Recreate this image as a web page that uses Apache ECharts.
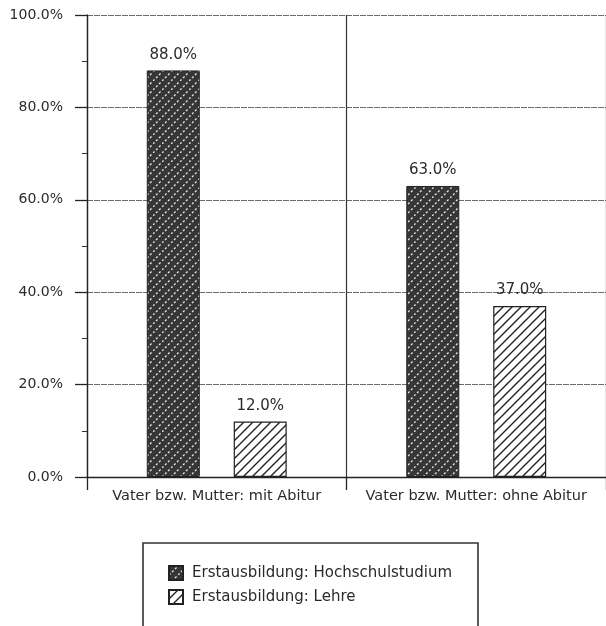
<!DOCTYPE html>
<html>
<head>
<meta charset="utf-8">
<script src="https://cdn.jsdelivr.net/npm/echarts@6/dist/echarts.min.js"></script>
<style>
html,body{margin:0;padding:0;background:#fff;}
#chart{width:606px;height:626px;}
</style>
</head>
<body>
<div id="chart"></div>
<script>
var categories = ['Vater bzw. Mutter: mit Abitur', 'Vater bzw. Mutter: ohne Abitur'];
var seriesNames = ['Erstausbildung: Hochschulstudium', 'Erstausbildung: Lehre'];
var hochschulValues = [88.0, 63.0];
var lehreValues = [12.0, 37.0];
var yTicks = [0, 20, 40, 60, 80, 100];

function darkPattern() {
  var c = document.createElement('canvas');
  c.width = 9; c.height = 9;
  var g = c.getContext('2d');
  g.fillStyle = '#363636';
  g.fillRect(0, 0, 9, 9);
  g.strokeStyle = '#e6e6e6';
  g.lineWidth = 1.3;
  g.setLineDash([2.2, 2.04]);
  g.beginPath();
  g.moveTo(0, 9); g.lineTo(9, 0);
  g.stroke();
  return c;
}
function lightPattern() {
  var c = document.createElement('canvas');
  c.width = 9; c.height = 9;
  var g = c.getContext('2d');
  g.fillStyle = '#ffffff';
  g.fillRect(0, 0, 9, 9);
  g.strokeStyle = '#222';
  g.lineWidth = 1.4;
  g.beginPath();
  g.moveTo(-1, 10); g.lineTo(10, -1);
  g.moveTo(-1, 1); g.lineTo(1, -1);
  g.moveTo(8, 10); g.lineTo(10, 8);
  g.stroke();
  return c;
}

var chart = echarts.init(document.getElementById('chart'));
var font = 'DejaVu Sans, Liberation Sans, Arial, sans-serif';
var labelCfg = {
  show: true, position: 'top', distance: 8,
  color: '#2a2a2a', fontSize: 15, fontFamily: font,
  formatter: function (p) { return p.value.toFixed(1) + '%'; }
};
chart.setOption({
  animation: false,
  backgroundColor: '#fff',
  textStyle: { fontFamily: font },
  grid: { left: 87, top: 15, width: 522, height: 462, containLabel: false },
  xAxis: {
    type: 'category',
    data: categories,
    axisLine: { lineStyle: { color: '#222', width: 1.3 } },
    axisTick: { show: true, interval: 0, length: 13, lineStyle: { color: '#222', width: 1.3 } },
    axisLabel: { interval: 0, hideOverlap: false, color: '#2a2a2a', fontSize: 14.5, fontFamily: font, margin: 12 },
    splitLine: { show: true, interval: 0, lineStyle: { color: '#333', width: 1.2 } }
  },
  yAxis: {
    type: 'value',
    min: 0, max: 100, interval: 20,
    axisLine: { show: true, lineStyle: { color: '#222', width: 1.3 } },
    axisTick: { show: true, length: 12, lineStyle: { color: '#222', width: 1.3 } },
    minorTick: { show: true, splitNumber: 2, length: 5, lineStyle: { color: '#333', width: 1 } },
    axisLabel: {
      color: '#2a2a2a', fontSize: 14, fontFamily: font, margin: 24,
      formatter: function (v) { return yTicks.indexOf(v) >= 0 ? v.toFixed(1) + '%' : ''; }
    },
    splitLine: { show: true, lineStyle: { color: '#6a6a6a', width: 1.2, type: [6, 1] } }
  },
  legend: {
    orient: 'vertical',
    left: 163, top: 560,
    icon: 'rect',
    itemWidth: 14, itemHeight: 14, itemGap: 8,
    data: seriesNames,
    textStyle: { color: '#2a2a2a', fontSize: 15, fontFamily: font, padding: [0, 0, 0, 4] }
  },
  graphic: [{
    type: 'rect',
    shape: { x: 143, y: 543, width: 335, height: 100 },
    style: { fill: 'none', stroke: '#333', lineWidth: 1.6 },
    silent: true
  }],
  series: [
    {
      name: seriesNames[0], type: 'bar', data: hochschulValues,
      barWidth: 53, barGap: '64%',
      itemStyle: { color: { image: darkPattern(), repeat: 'repeat' }, borderColor: '#222', borderWidth: 1 },
      label: labelCfg
    },
    {
      name: seriesNames[1], type: 'bar', data: lehreValues,
      barWidth: 53,
      itemStyle: { color: { image: lightPattern(), repeat: 'repeat' }, borderColor: '#222', borderWidth: 1.2 },
      label: labelCfg
    }
  ]
});
</script>
</body>
</html>
